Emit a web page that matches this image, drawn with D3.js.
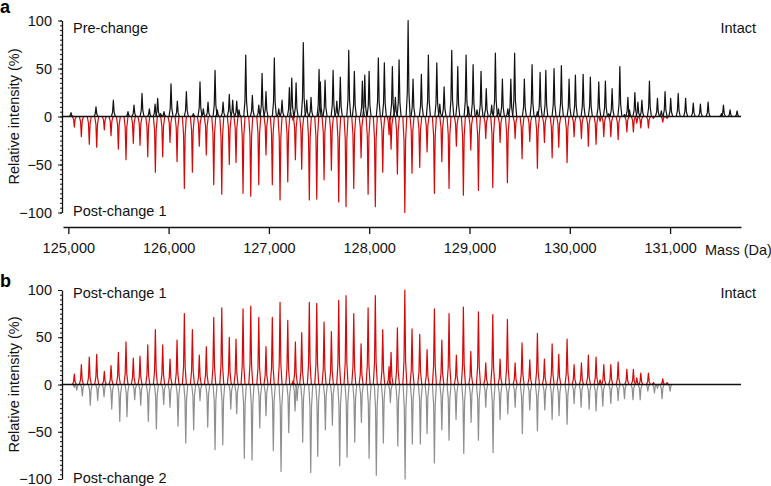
<!DOCTYPE html>
<html>
<head>
<meta charset="utf-8">
<script src="https://cdn.jsdelivr.net/npm/d3@7"></script>
<style>
  body { margin: 0; background: #fff; }
  svg { font-family: "Liberation Sans", Arial, Helvetica, sans-serif; }
</style>
</head>
<body>
<svg id="chart" width="771" height="486"></svg>
<script>
// peak lists (mass in Da, relative intensity in %)
const preChangeMass = [125027,125276,125449,125595,125655,125735,125808,125865,125891,125921,125954,126024,126087,126177,126247,126313,126346,126393,126463,126486,126543,126605,126639,126679,126702,126769,126835,126899,126932,126971,127054,127098,127131,127204,127228,127271,127343,127377,127420,127500,127513,127560,127640,127677,127712,127796,127852,127932,127956,127999,128091,128151,128231,128261,128298,128388,128437,128520,128590,128674,128704,128747,128823,128883,128966,128989,129036,129075,129115,129167,129221,129258,129288,129328,129382,129412,129450,129547,129624,129677,129704,129761,129843,129916,129993,130056,130133,130205,130289,130355,130389,130422,130499,130545,130579,130595,130649,130679,130719,130794,130874,130913,130950,131006,131081,131155,131231,131302,131379,131512,131532,131598,131668];
const preChangeIntensity = [4,10,17,5,12,24,8,13,19,3,5,34,16,26,3,36,8,15,48,7,15,23,17,16,7,64,22,12,45,26,61,8,17,30,40,35,77,17,20,49,36,38,48,16,41,69,47,37,43,47,61,56,52,20,59,100,39,44,64,56,13,31,69,52,64,10,54,7,47,29,12,66,8,39,8,39,66,39,54,5,46,48,50,53,39,43,44,41,36,37,3,29,52,2,20,7,25,15,17,37,19,6,26,19,24,19,14,13,15,3,12,7,6];

const postChange1Mass = [125060,125130,125209,125283,125359,125426,125499,125575,125648,125715,125792,125868,125941,126014,126084,126157,126237,126306,126376,126450,126530,126605,126672,126742,126819,126899,126971,127034,127111,127188,127241,127264,127327,127403,127477,127550,127623,127696,127769,127846,127919,127989,128061,128135,128198,128218,128281,128355,128427,128504,128577,128650,128724,128796,128869,128939,129013,129089,129162,129232,129305,129378,129455,129524,129601,129677,129747,129824,129890,129973,130043,130116,130185,130262,130302,130339,130409,130482,130569,130634,130668,130708,130784,130834,130927,130970];
const postChange1Intensity = [11,21,29,32,14,20,34,45,28,30,42,58,42,27,47,75,58,31,40,71,81,50,48,80,83,71,40,71,87,68,4,45,55,87,86,66,56,89,94,75,43,81,94,58,19,34,60,100,59,53,37,80,47,75,31,82,35,77,23,74,27,69,23,44,26,54,27,43,32,48,21,23,31,29,5,21,21,24,16,16,7,12,12,2,6,2];

const postChange2Mass = [125060,125084,125140,125219,125293,125356,125433,125513,125585,125662,125722,125798,125878,125951,126014,126094,126171,126250,126313,126390,126463,126540,126620,126679,126755,126832,126909,126971,127044,127121,127198,127261,127281,127337,127417,127487,127563,127633,127706,127779,127856,127922,127999,128071,128141,128211,128285,128358,128430,128510,128577,128650,128724,128796,128866,128943,129016,129089,129162,129235,129305,129382,129455,129527,129601,129677,129751,129824,129893,129973,130043,130113,130193,130262,130329,130409,130482,130545,130630,130702,130778,130844,130874,130920,131000];
const postChange2Intensity = [3,6,12,22,17,13,26,39,34,16,22,39,47,21,24,44,62,48,17,45,69,64,26,31,78,80,46,33,70,92,51,28,17,61,93,76,48,43,86,77,61,40,78,96,62,19,65,100,63,63,52,83,48,59,37,73,40,59,24,72,37,31,24,52,27,49,27,37,33,42,20,24,26,28,23,20,17,15,16,16,7,9,4,15,7];

const massTicks = [125000, 126000, 127000, 128000, 129000, 130000, 131000];
const intensityTicks = [-100, -50, 0, 50, 100];
const minorIntensityTicks = d3.range(-100, 101, 5);

const svg = d3.select("#chart");
const black = "#111", red = "#d40a0a", gray = "#8e8e8e";
const fs = 14.5;

const x = d3.scaleLinear().domain([124947, 131707]).range([63, 741]);
const yA = d3.scaleLinear().domain([-100, 100]).range([212.5, 20.5]);
const yB = d3.scaleLinear().domain([-100, 100]).range([479, 290]);

function drawPeaks(g, y, masses, values, sign, color) {
  const w = 20;
  const line = d3.line().x(p => x(p[0])).y(p => y(p[1]));
  g.append("g")
    .selectAll("path")
    .data(d3.zip(masses, values))
    .join("path")
    .attr("d", d => {
      const m = d[0], h = sign * d[1];
      return line([[m - w, 0], [m - w * 0.4, h * 0.25], [m, h], [m + w * 0.4, h * 0.25], [m + w, 0]]);
    })
    .attr("fill", "none")
    .attr("stroke", color)
    .attr("stroke-width", 1.2)
    .attr("stroke-linejoin", "round");
}

function drawYAxis(y, cy) {
  const g = svg.append("g").attr("transform", "translate(62,0)");
  g.append("g")
    .call(d3.axisLeft(y).tickValues(minorIntensityTicks).tickSize(2).tickFormat(""))
    .call(s => s.select(".domain").remove())
    .selectAll("line").attr("stroke", black);
  const major = g.append("g")
    .call(d3.axisLeft(y).tickValues(intensityTicks).tickSize(4).tickPadding(6).tickSizeOuter(0));
  major.select(".domain").attr("stroke", black).attr("stroke-width", 1.3);
  major.selectAll("line").attr("stroke", black);
  major.selectAll("text").attr("font-size", fs).attr("fill", black)
    .attr("font-family", "'Liberation Sans', Arial, sans-serif");
  svg.append("text")
    .attr("transform", `translate(19,${cy}) rotate(-90)`)
    .attr("text-anchor", "middle")
    .attr("font-size", fs)
    .attr("fill", black)
    .text("Relative intensity (%)");
}

function label(tx, ty, txt, anchor) {
  svg.append("text").attr("x", tx).attr("y", ty)
    .attr("text-anchor", anchor || "start")
    .attr("font-size", fs).attr("fill", black).text(txt);
}

// ---- panel a ----
const gA = svg.append("g");
drawPeaks(gA, yA, preChangeMass, preChangeIntensity, 1, black);
drawPeaks(gA, yA, postChange1Mass, postChange1Intensity, -1, red);
gA.append("line")
  .attr("x1", 62).attr("x2", x.range()[1])
  .attr("y1", yA(0)).attr("y2", yA(0))
  .attr("stroke", black).attr("stroke-width", 1.5);
drawYAxis(yA, yA(0));

const xAxis = svg.append("g")
  .attr("transform", "translate(0,227)")
  .call(d3.axisBottom(x).tickValues(massTicks).tickFormat(d3.format(",")).tickSize(7).tickPadding(9).tickSizeOuter(0));
xAxis.select(".domain").attr("stroke", black).attr("stroke-width", 1.3);
xAxis.selectAll("line").attr("stroke", black).attr("stroke-width", 1.3);
xAxis.selectAll("text").attr("font-size", fs).attr("fill", black)
  .attr("font-family", "'Liberation Sans', Arial, sans-serif");
label(705, 255, "Mass (Da)");

label(73, 33, "Pre-change");
label(756, 33, "Intact", "end");
label(73, 216, "Post-change 1");
svg.append("text").attr("x", 0).attr("y", 13).attr("font-size", 18)
  .attr("font-weight", "bold").text("a");

// ---- panel b ----
const gB = svg.append("g");
drawPeaks(gB, yB, postChange1Mass, postChange1Intensity, 1, red);
drawPeaks(gB, yB, postChange2Mass, postChange2Intensity, -1, gray);
gB.append("line")
  .attr("x1", 62).attr("x2", x.range()[1])
  .attr("y1", yB(0)).attr("y2", yB(0))
  .attr("stroke", black).attr("stroke-width", 1.5);
drawYAxis(yB, yB(0));

label(73, 298, "Post-change 1");
label(756, 298, "Intact", "end");
label(73, 483, "Post-change 2");
svg.append("text").attr("x", 0).attr("y", 287).attr("font-size", 18)
  .attr("font-weight", "bold").text("b");
</script>
</body>
</html>
